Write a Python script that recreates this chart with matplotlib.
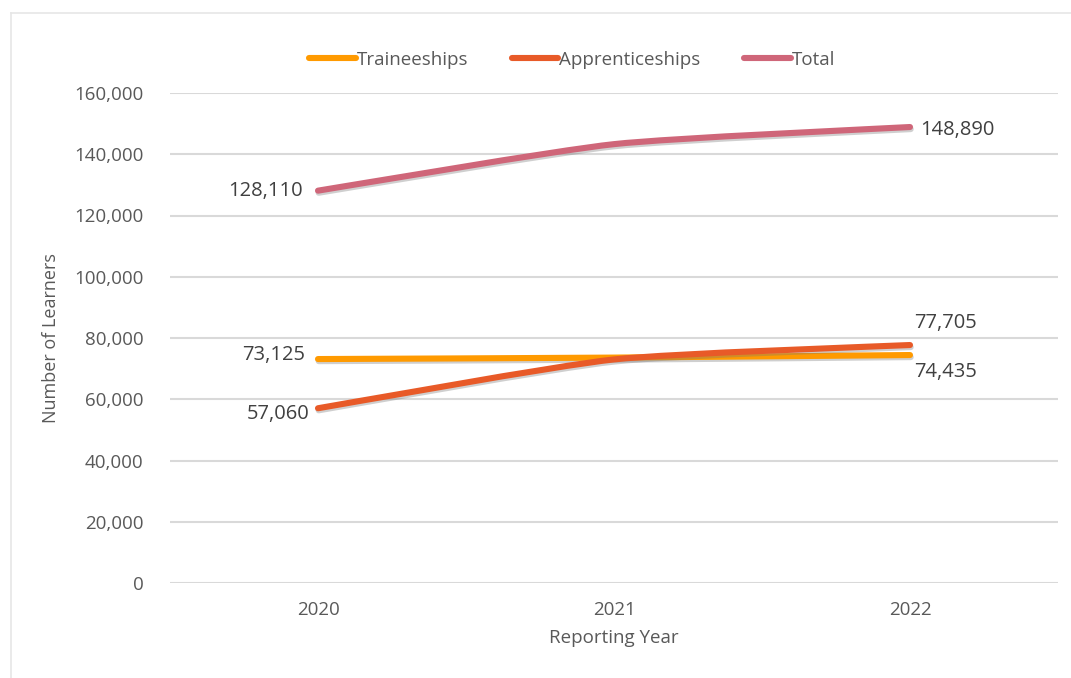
import matplotlib
matplotlib.use('Agg')
from matplotlib import pyplot as plt
from matplotlib.path import Path
from matplotlib.patches import PathPatch
from matplotlib.lines import Line2D
import matplotlib.patheffects as pe
import numpy as np

years = ['2020', '2021', '2022']
traineeships = [73125, 73600, 74435]
apprenticeships = [57060, 73000, 77705]
total = [128110, 143300, 148890]

plt.rcParams['font.family'] = ['Open Sans', 'DejaVu Sans']
grey = '#595959'

def smooth_path(ys, k=10):
    """Excel-like smoothed line: cubic bezier through the points."""
    xs = np.arange(len(ys), dtype=float)
    pts = np.column_stack([xs, np.asarray(ys, dtype=float)])
    verts = [pts[0]]
    codes = [Path.MOVETO]
    n = len(pts)
    for i in range(n - 1):
        p0 = pts[max(i - 1, 0)]
        p1 = pts[i]
        p2 = pts[i + 1]
        p3 = pts[min(i + 2, n - 1)]
        c1 = p1 + (p2 - p0) / k
        c2 = p2 - (p3 - p1) / k
        verts += [c1, c2, p2]
        codes += [Path.CURVE4] * 3
    return Path(verts, codes)

fig = plt.figure(figsize=(10.71, 6.78), dpi=100)
ax = fig.add_axes([170 / 1071, 95 / 678, 888 / 1071, 490 / 678])

series = [
    ('Traineeships', traineeships, '#FF9A00'),
    ('Apprenticeships', apprenticeships, '#E85A28'),
    ('Total', total, '#CF6679'),
]

handles = []
for name, vals, col in series:
    patch = PathPatch(smooth_path(vals), facecolor='none', edgecolor=col,
                      linewidth=4.4, capstyle='round', joinstyle='round',
                      zorder=3)
    patch.set_path_effects([pe.SimpleLineShadow(offset=(0.5, -1.5), shadow_color='#777777', alpha=0.35),
                            pe.Normal()])
    ax.add_patch(patch)
    handles.append(Line2D([0], [0], color=col, linewidth=4.4,
                          solid_capstyle='round', label=name))

ax.set_xlim(-0.5, 2.5)
ax.set_ylim(0, 160000)
ax.set_yticks(np.arange(0, 160001, 20000))
ax.yaxis.set_major_formatter(matplotlib.ticker.FuncFormatter(lambda v, p: f'{int(v):,}'))
ax.set_xticks(range(len(years)))
ax.set_xticklabels(years)
ax.grid(axis='y', color='#d9d9d9', linewidth=1.5)
ax.set_axisbelow(True)
for s in ax.spines.values():
    s.set_visible(False)
ax.tick_params(length=0, labelsize=13.5, colors=grey, pad=19)
ax.tick_params(axis='x', pad=13)
ax.set_xlabel('Reporting Year', fontsize=13.5, color=grey, labelpad=7)
ax.set_ylabel('Number of Learners', fontsize=13, color=grey, labelpad=10)

# data labels
lab = dict(fontsize=14.5, color='#404040')
ax.annotate(f'{total[0]:,}', (0, total[0]), xytext=(-11, 0), textcoords='offset points',
            ha='right', va='center', **lab)
ax.annotate(f'{traineeships[0]:,}', (0, traineeships[0]), xytext=(-9, 3), textcoords='offset points',
            ha='right', va='center', **lab)
ax.annotate(f'{apprenticeships[0]:,}', (0, apprenticeships[0]), xytext=(-6, -4), textcoords='offset points',
            ha='right', va='center', **lab)
ax.annotate(f'{total[2]:,}', (2, total[2]), xytext=(7, -2), textcoords='offset points',
            ha='left', va='center', **lab)
ax.annotate(f'{apprenticeships[2]:,}', (2, apprenticeships[2]), xytext=(3, 16), textcoords='offset points',
            ha='left', va='center', **lab)
ax.annotate(f'{traineeships[2]:,}', (2, traineeships[2]), xytext=(3, -12), textcoords='offset points',
            ha='left', va='center', **lab)

leg = fig.legend(handles=handles, loc='center', bbox_to_anchor=(572 / 1071, 1 - 60 / 678),
                 ncol=3, frameon=False, fontsize=13.5, handlelength=2.5,
                 handletextpad=0.05, columnspacing=2.3, labelcolor=grey)

# chart outline
fig.add_artist(Line2D([11 / 1071, 1], [1 - 13 / 678] * 2, color='#e6e6e6', linewidth=1.2))
fig.add_artist(Line2D([11 / 1071] * 2, [0, 1 - 13 / 678], color='#e6e6e6', linewidth=1.2))

fig.savefig('out.png', dpi=100, facecolor='white')
